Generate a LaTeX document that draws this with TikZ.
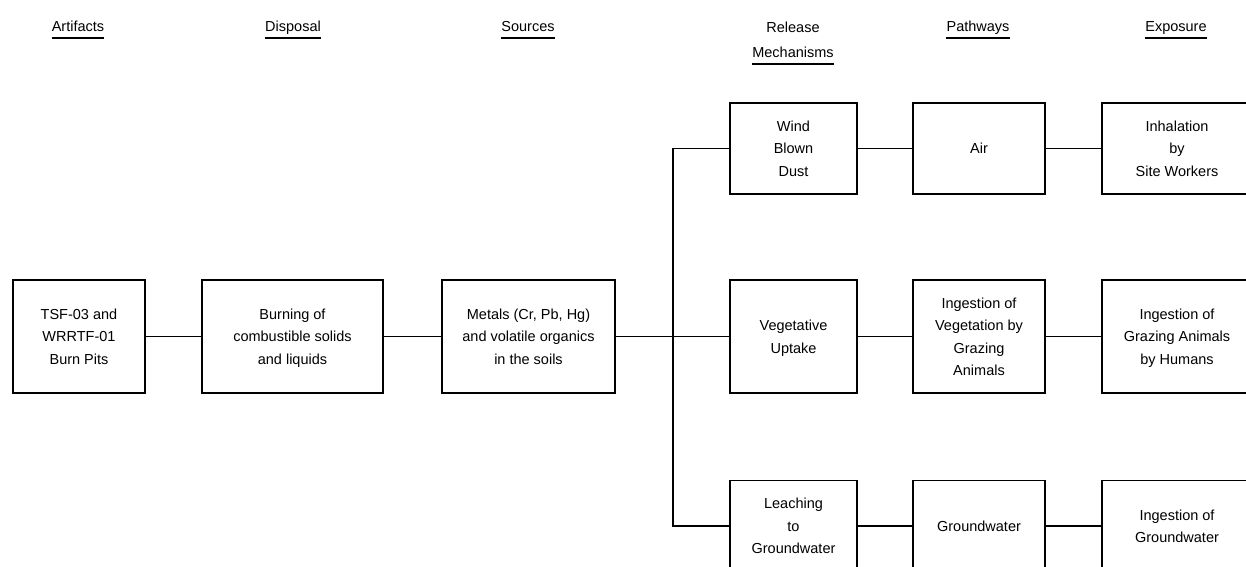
\documentclass[tikz,border=0pt]{standalone}
\usepackage{fontspec}
\setmainfont{Liberation Sans}
\begin{document}
\begin{tikzpicture}[x=1pt,y=-1pt,
  box/.style={draw, line width=1.8pt, align=center, inner sep=2pt,
    font=\fontsize{14.5}{22.5}\selectfont, text depth=0pt},
  tallbox/.style={box, minimum height=113pt},
  shortbox/.style={box, minimum height=91pt},
  link/.style={line width=1.8pt},
  head/.style={font=\fontsize{14.5}{17}\selectfont, inner sep=0pt, anchor=base},
  uline/.style={line width=1.8pt}]
\useasboundingbox (0,0) rectangle (1246,566);
\clip (0,0) rectangle (1246,566);
\fill[white] (0,0) rectangle (1246,566);

% headers
\node[head] (h1) at (78,31) {Artifacts};
\node[head] (h2) at (293,31) {Disposal};
\node[head] (h3) at (528,31) {Sources};
\node[head] (h4a) at (793,32) {Release};
\node[head] (h4) at (793,57) {Mechanisms};
\node[head] (h5) at (978,31) {Pathways};
\node[head] (h6) at (1176,31) {Exposure};
\foreach \h in {h1,h2,h3,h4,h5,h6}
  \draw[uline] ([yshift=-7pt]\h.base west) -- ([yshift=-7pt]\h.base east);

% middle row
\node[tallbox, minimum width=132pt] (b1) at (79,336.5) {TSF-03 and\\WRRTF-01\\Burn Pits};
\node[tallbox, minimum width=181pt] (b2) at (292.5,336.5) {Burning of\\combustible solids\\and liquids};
\node[tallbox, minimum width=173pt] (b3) at (528.5,336.5) {Metals (Cr, Pb, Hg)\\and volatile organics\\in the soils};
\node[tallbox, minimum width=127pt] (veg) at (793.5,336.5) {Vegetative\\Uptake};
\node[tallbox, minimum width=132pt] (ingv) at (979,336.5) {Ingestion of\\Vegetation by\\Grazing\\Animals};
\node[tallbox, minimum width=150pt] (ingg) at (1177,336.5) {Ingestion of\\Grazing Animals\\by Humans};

% top row
\node[shortbox, minimum width=127pt] (wind) at (793.5,148.5) {Wind\\Blown\\Dust};
\node[shortbox, minimum width=132pt] (air) at (979,148.5) {Air};
\node[shortbox, minimum width=150pt] (inh) at (1177,148.5) {Inhalation\\by\\Site Workers};

% bottom row
\node[shortbox, minimum width=127pt] (leach) at (793.5,526) {Leaching\\to\\Groundwater};
\node[shortbox, minimum width=132pt] (gw) at (979,526) {Groundwater};
\node[shortbox, minimum width=150pt] (inggw) at (1177,526) {Ingestion of\\Groundwater};

% junction
\coordinate (jt) at (673,148.5);
\coordinate (jm) at (673,336.5);
\coordinate (jb) at (673,526);

\draw[link] (b1) -- (b2);
\draw[link] (b2) -- (b3);
\draw[link] (b3) -- (jm) -- (veg);
\draw[link] (wind.west) -- (jt) -- (jb) -- (leach.west);
\draw[link] (wind) -- (air);
\draw[link] (air) -- (inh);
\draw[link] (veg) -- (ingv);
\draw[link] (ingv) -- (ingg);
\draw[link] (leach) -- (gw);
\draw[link] (gw) -- (inggw);
\end{tikzpicture}
\end{document}
